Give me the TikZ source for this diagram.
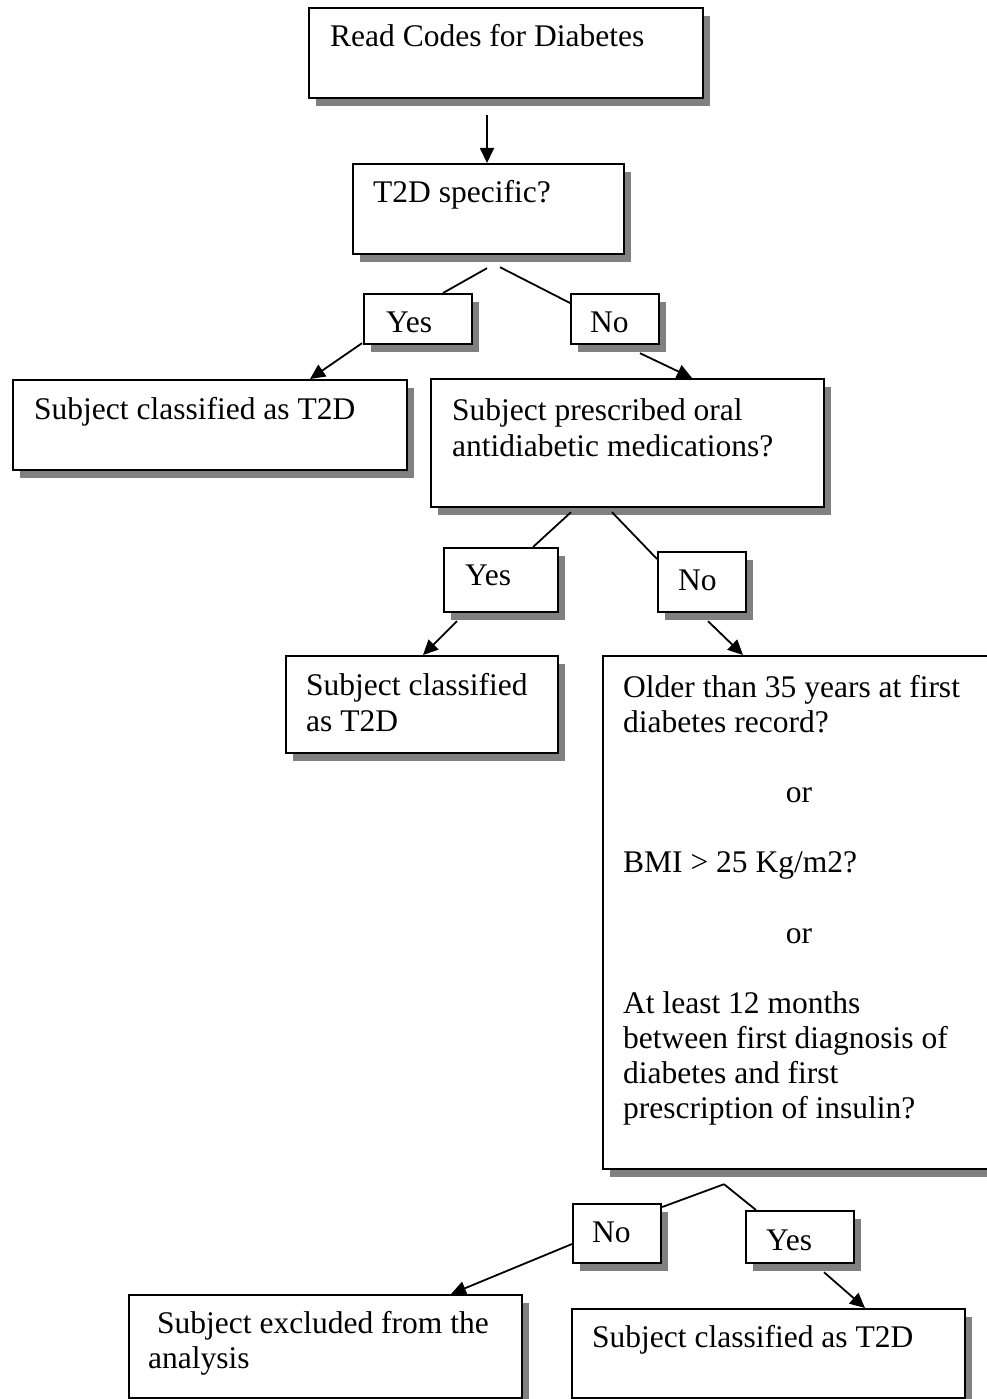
\documentclass[tikz,border=0pt]{standalone}
\usepackage{fontspec}
\setmainfont{Liberation Serif}
\usetikzlibrary{arrows.meta,shadows}
\begin{document}
\begin{tikzpicture}[x=1pt,y=-1pt,
 box/.style={draw, line width=2.2pt, fill=white, anchor=north west, inner sep=0pt,
   general shadow={fill=black!50, shadow xshift=7pt, shadow yshift=-8pt}},
 txt/.style={anchor=base west, inner sep=0pt, font=\fontsize{31.5}{35}\selectfont},
 link/.style={line width=1.8pt},
 arr/.style={line width=1.8pt, -{Triangle[length=15pt,width=14pt]}}]
\useasboundingbox (0,0) rectangle (987,1399);

% boxes
\node[box, minimum width=394pt, minimum height=90pt] (b1) at (308,7) {};
\node[box, minimum width=271pt, minimum height=90pt] (b2) at (352,163) {};
\node[box, minimum width=108pt, minimum height=50pt] (yes1) at (363,293) {};
\node[box, minimum width=88pt, minimum height=50pt] (no1) at (570,293) {};
\node[box, minimum width=394pt, minimum height=90pt] (b3) at (12,379) {};
\node[box, minimum width=393pt, minimum height=128pt] (b4) at (430,378) {};
\node[box, minimum width=114pt, minimum height=64pt] (yes2) at (443,547) {};
\node[box, minimum width=88pt, minimum height=60pt] (no2) at (657,551) {};
\node[box, minimum width=272pt, minimum height=97pt] (b5) at (285,655) {};
\node[box, minimum width=400pt, minimum height=513pt] (b6) at (602,655) {};
\node[box, minimum width=88pt, minimum height=59pt] (no3) at (572,1203) {};
\node[box, minimum width=108pt, minimum height=52pt] (yes3) at (745,1210) {};
\node[box, minimum width=393pt, minimum height=103pt] (b7) at (128,1294) {};
\node[box, minimum width=393pt, minimum height=89pt] (b8) at (571,1308) {};

% texts
\node[txt] (t1) at (330,47) {Read Codes for Diabetes};
\node[txt] (t2) at (373,202) {T2D specific?};
\node[txt] (ty1) at (386,332) {Yes};
\node[txt] (tn1) at (590,332) {No};
\node[txt] (t3) at (34,419) {Subject classified as T2D};
\node[txt] (t4a) at (452,420) {Subject prescribed oral};
\node[txt] (t4b) at (452,456) {antidiabetic medications?};
\node[txt] (ty2) at (465,585) {Yes};
\node[txt] (tn2) at (678,590) {No};
\node[txt] (t5a) at (306,695) {Subject classified};
\node[txt] (t5b) at (306,731) {as T2D};
\node[txt] (t6a) at (623,697) {Older than 35 years at first};
\node[txt] (t6b) at (623,732) {diabetes record?};
\node[txt, anchor=base] (t6c) at (799,802) {or};
\node[txt] (t6d) at (623,872) {BMI > 25 Kg/m2?};
\node[txt, anchor=base] (t6e) at (799,943) {or};
\node[txt] (t6f) at (623,1013) {At least 12 months};
\node[txt] (t6g) at (623,1048) {between first diagnosis of};
\node[txt] (t6h) at (623,1083) {diabetes and first};
\node[txt] (t6i) at (623,1118) {prescription of insulin?};
\node[txt] (tn3) at (592,1242) {No};
\node[txt] (ty3) at (766,1250) {Yes};
\node[txt] (t7a) at (157,1333) {Subject excluded from the};
\node[txt] (t7b) at (148,1368) {analysis};
\node[txt] (t8) at (592,1347) {Subject classified as T2D};

% connectors
\coordinate (c1) at (487,115);
\draw[arr] (c1) -- ([xshift=135pt]b2.north west);
\draw[link] ([xshift=135pt,yshift=-13pt]b2.south west) -- ([xshift=80pt]yes1.north west);
\draw[link] ([xshift=148pt,yshift=-12pt]b2.south west) -- ([yshift=-10pt]no1.north west);
\draw[arr] ([xshift=-1pt,yshift=2pt]yes1.south west) -- ([xshift=298pt]b3.north west);
\draw[arr] ([xshift=70pt,yshift=-8pt]no1.south west) -- ([xshift=262pt]b4.north west);
\draw[link] ([xshift=141pt,yshift=-4pt]b4.south west) -- ([xshift=90pt]yes2.north west);
\draw[link] ([xshift=182pt,yshift=-4pt]b4.south west) -- ([yshift=-8pt]no2.north west);
\draw[arr] ([xshift=14pt,yshift=-8pt]yes2.south west) -- ([xshift=138pt]b5.north west);
\draw[arr] ([xshift=51pt,yshift=-8pt]no2.south west) -- ([xshift=141pt]b6.north west);
\coordinate (apex) at ([xshift=122pt,yshift=-14pt]b6.south west);
\draw[link] (apex) -- ([yshift=-4pt]no3.north east);
\draw[link] (apex) -- ([xshift=11pt]yes3.north west);
\draw[arr] ([yshift=-41pt]no3.north west) -- ([xshift=323pt]b7.north west);
\draw[arr] ([xshift=79pt,yshift=-8pt]yes3.south west) -- ([xshift=294pt]b8.north west);
\end{tikzpicture}
\end{document}
